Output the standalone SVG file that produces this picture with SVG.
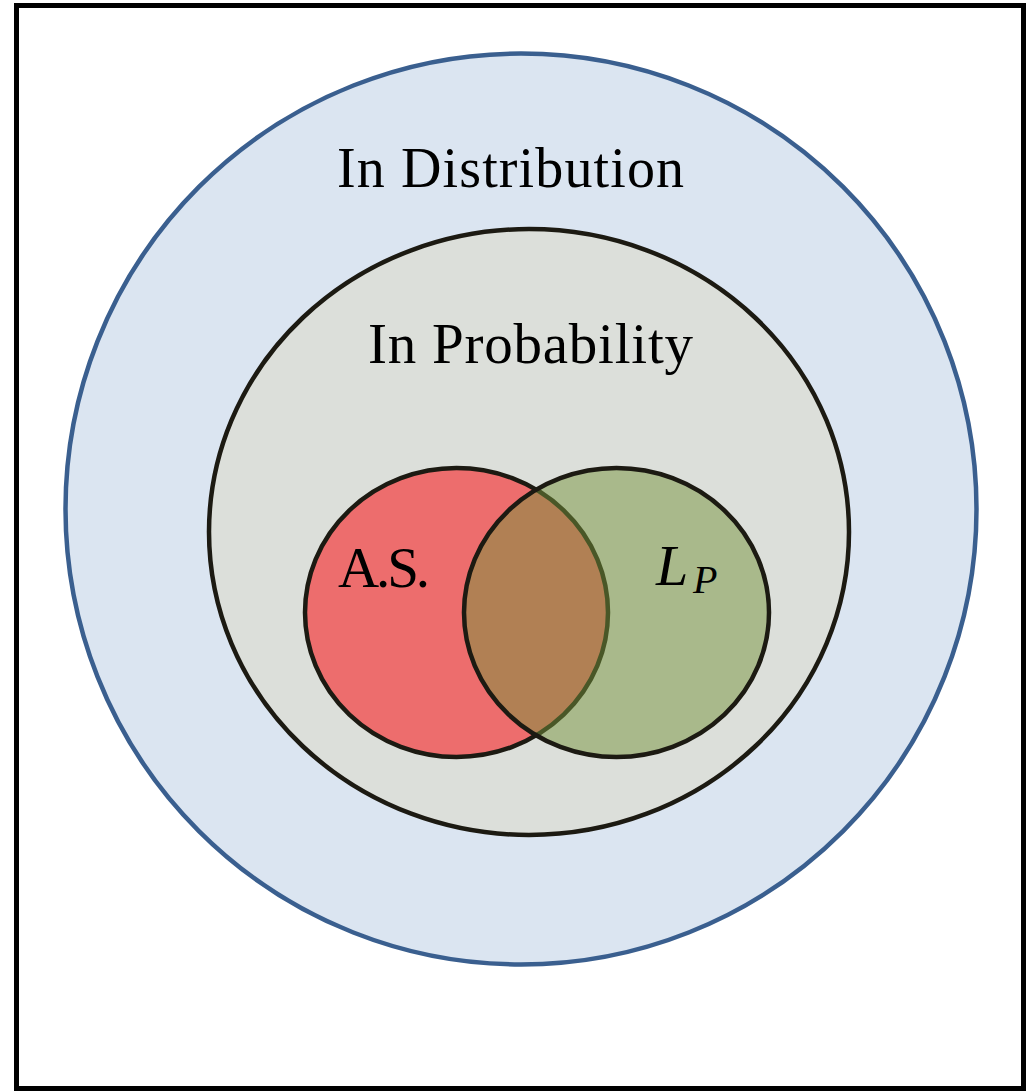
<svg xmlns="http://www.w3.org/2000/svg" width="1029" height="1091" viewBox="0 0 1029 1091">
  <style>
    .lbl { font-family: "Liberation Serif", "DejaVu Serif", serif; fill: #000; }
    .ring { stroke: #1c1a12; stroke-width: 4.5; }
  </style>
  <rect x="0" y="0" width="1029" height="1091" fill="#ffffff"/>
  <g id="frame">
    <rect x="16.5" y="5.5" width="1007" height="1083" fill="#ffffff" stroke="#000000" stroke-width="5"/>
  </g>
  <g id="in-distribution">
    <circle cx="521" cy="509" r="455.5" fill="#dbe5f1" stroke="#3a5f8f" stroke-width="4.5"/>
    <text class="lbl" x="337" y="187" font-size="56" textLength="347" lengthAdjust="spacing">In Distribution</text>
  </g>
  <g id="in-probability">
    <ellipse class="ring" cx="529" cy="532" rx="320" ry="303" fill="#dcdfda"/>
    <text class="lbl" x="368" y="363" font-size="57" textLength="325" lengthAdjust="spacing">In Probability</text>
  </g>
  <g id="almost-sure">
    <ellipse class="ring" cx="456.5" cy="612.5" rx="151.5" ry="144.5" fill="#ed6d6d"/>
    <text class="lbl" x="338" y="587" font-size="57" textLength="92" lengthAdjust="spacing">A.S.</text>
  </g>
  <g id="lp">
    <ellipse cx="616.5" cy="612.5" rx="152.5" ry="144.5" fill="#76933c" fill-opacity="0.5" stroke="#1c1a12" stroke-width="4.5"/>
    <text class="lbl" x="656" y="585" font-size="58" font-style="italic">L</text>
    <text class="lbl" x="693" y="593" font-size="40" font-style="italic">P</text>
  </g>
  <g id="connectors"></g>
</svg>
